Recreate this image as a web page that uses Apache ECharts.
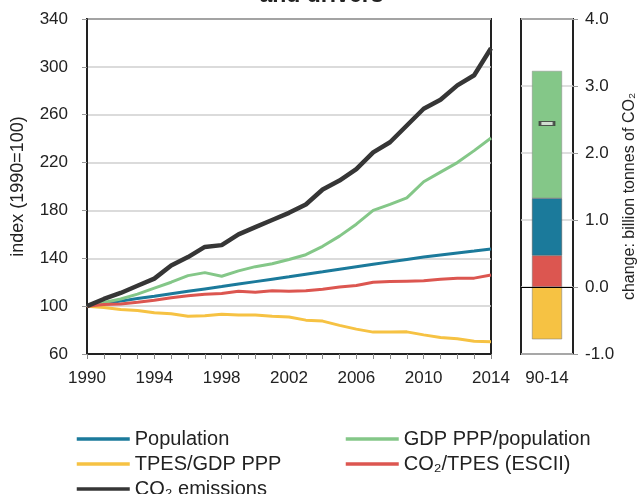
<!DOCTYPE html>
<html>
<head>
<meta charset="utf-8">
<script src="https://cdn.jsdelivr.net/npm/echarts@6/dist/echarts.min.js"></script>
<style>
  html, body { margin: 0; padding: 0; background: #fff; }
  #chart { width: 643px; height: 494px; }
</style>
</head>
<body>
<div id="chart"></div>
<script>
var years = ['1990', '1991', '1992', '1993', '1994', '1995', '1996', '1997', '1998', '1999', '2000', '2001', '2002',
             '2003', '2004', '2005', '2006', '2007', '2008', '2009', '2010', '2011', '2012', '2013', '2014'];
var population = [100, 102.1, 104.2, 106.3, 108.3, 110.4, 112.4, 114.4, 116.4, 118.5, 120.5, 122.5, 124.5,
                  126.6, 128.7, 130.9, 133, 135, 137, 139, 141, 142.7, 144.4, 146, 147.7];
var gdpPerPop = [100, 103, 106, 110, 115, 120, 125.5, 128, 125, 129.5, 133, 135.5, 139,
                 143, 150, 158.5, 168.5, 180, 185, 190.5, 204, 212, 220, 230, 240.5];
var tpesPerGdp = [100, 98.9, 97.2, 96.4, 94.4, 93.6, 91.6, 91.9, 93.3, 92.5, 92.5, 91.6, 91,
                  88.3, 87.5, 83.9, 80.8, 78.3, 78.4, 78.5, 76, 73.8, 72.7, 70.7, 70.2];
var co2PerTpes = [100, 101.4, 101.7, 103.3, 105, 107, 108.6, 110, 110.6, 112.5, 111.7, 112.8, 112.5,
                  112.9, 114.2, 116, 117.3, 120, 120.6, 120.9, 121.2, 122.5, 123.4, 123.4, 126];
var co2Emissions = [100, 106, 111, 117, 123, 134, 141, 149.5, 151, 160, 166, 172, 178,
                    185, 197.5, 205, 214.5, 228.5, 237, 251, 265, 272.5, 284.5, 293, 315.5];

// change 1990-2014, billion tonnes of CO2
var periods = ['90-14'];
var chgCo2PerTpes = [0.47];
var chgPopulation = [0.855];
var chgGdpPerPop = [1.9];
var chgTpesPerGdp = [-0.78];
var chgCo2Total = [2.44];

var colors = {
    pop: '#1b7a9b',
    gdp: '#84c788',
    tpes: '#f6c243',
    co2tpes: '#dc5650',
    co2: '#363636'
};

var chart = echarts.init(document.getElementById('chart'));
var fontFamily = '"Liberation Sans", Arial, sans-serif';

var legendBase = {
    orient: 'vertical',
    top: 429,
    height: 90,
    padding: 0,
    itemWidth: 53,
    itemHeight: 14,
    itemGap: 5,
    itemStyle: { opacity: 0 },
    lineStyle: { width: 3.5 },
    textStyle: { fontSize: 20, lineHeight: 18.5, color: '#222' }
};

var option = {
    animation: false,
    textStyle: { fontFamily: fontFamily, color: '#222' },
    title: {
        text: 'and drivers',
        left: 'center',
        top: -21,
        textStyle: { fontFamily: fontFamily, fontSize: 23, fontWeight: 'bold', color: '#222' }
    },
    legend: [
        Object.assign({}, legendBase, {
            left: 75,
            data: ['Population', 'TPES/GDP PPP', 'CO₂ emissions']
        }),
        Object.assign({}, legendBase, {
            left: 344,
            data: ['GDP PPP/population', 'CO₂/TPES (ESCII)']
        })
    ],
    grid: [
        { left: 87, top: 19, width: 404, height: 335, show: true, borderColor: '#222', borderWidth: 2 },
        { left: 521, top: 19, width: 52, height: 335, show: true, borderColor: '#222', borderWidth: 2 }
    ],
    xAxis: [
        {
            type: 'category',
            gridIndex: 0,
            data: years,
            boundaryGap: false,
            axisLine: { lineStyle: { color: '#222', width: 2 } },
            axisTick: { interval: 0, length: 5, lineStyle: { color: '#888' } },
            axisLabel: { interval: 3, fontSize: 17, color: '#222', margin: 16 },
            splitLine: { show: false }
        },
        {
            type: 'category',
            gridIndex: 1,
            data: periods,
            axisLine: { show: false, onZero: false },
            axisTick: { show: false },
            axisLabel: { fontSize: 17, color: '#222', margin: 16 }
        }
    ],
    yAxis: [
        {
            type: 'value',
            gridIndex: 0,
            min: 60,
            max: 340,
            interval: 40,
            name: 'index (1990=100)',
            nameLocation: 'middle',
            nameGap: 60,
            nameTextStyle: { fontSize: 18, color: '#222' },
            axisLine: { show: true, lineStyle: { color: '#222', width: 2 } },
            axisTick: { show: true, length: 5, lineStyle: { color: '#999' } },
            axisLabel: { fontSize: 17, color: '#222', margin: 19 },
            splitLine: { lineStyle: { color: '#cfcfcf', width: 1.5 } }
        },
        {
            type: 'value',
            gridIndex: 1,
            position: 'right',
            min: -1,
            max: 4,
            interval: 1,
            name: 'change: billion tonnes of CO₂',
            nameLocation: 'middle',
            nameRotate: 90,
            nameGap: 49,
            nameTextStyle: { fontSize: 16, color: '#222', padding: [0, 20, 0, 0] },
            axisLine: { show: false },
            axisTick: { show: true, length: 5, lineStyle: { color: '#999' } },
            axisLabel: {
                fontSize: 17, color: '#222', margin: 12,
                formatter: function (v) { return v.toFixed(1); }
            },
            splitLine: { lineStyle: { color: '#d4d4d4', width: 1.5 } }
        }
    ],
    series: [
        {
            name: 'Population', type: 'line', data: population, symbol: 'none',
            lineStyle: { color: colors.pop, width: 3 }, itemStyle: { color: colors.pop }
        },
        {
            name: 'GDP PPP/population', type: 'line', data: gdpPerPop, symbol: 'none',
            lineStyle: { color: colors.gdp, width: 3 }, itemStyle: { color: colors.gdp }
        },
        {
            name: 'TPES/GDP PPP', type: 'line', data: tpesPerGdp, symbol: 'none',
            lineStyle: { color: colors.tpes, width: 3 }, itemStyle: { color: colors.tpes }
        },
        {
            name: 'CO₂/TPES (ESCII)', type: 'line', data: co2PerTpes, symbol: 'none',
            lineStyle: { color: colors.co2tpes, width: 3 }, itemStyle: { color: colors.co2tpes }
        },
        {
            name: 'CO₂ emissions', type: 'line', data: co2Emissions, symbol: 'none',
            lineStyle: { color: colors.co2, width: 4.5 }, itemStyle: { color: colors.co2 }
        },
        // decomposition bar
        {
            type: 'bar', xAxisIndex: 1, yAxisIndex: 1, stack: 'chg', barWidth: 30,
            data: chgCo2PerTpes,
            itemStyle: { color: colors.co2tpes, borderColor: '#777', borderWidth: 0.5 }
        },
        {
            type: 'bar', xAxisIndex: 1, yAxisIndex: 1, stack: 'chg', barWidth: 30,
            data: chgPopulation,
            itemStyle: { color: colors.pop, borderColor: '#555', borderWidth: 0.5 }
        },
        {
            type: 'bar', xAxisIndex: 1, yAxisIndex: 1, stack: 'chg', barWidth: 30,
            data: chgGdpPerPop,
            itemStyle: { color: colors.gdp, borderColor: '#888', borderWidth: 0.5 }
        },
        {
            type: 'bar', xAxisIndex: 1, yAxisIndex: 1, stack: 'chg', barWidth: 30,
            data: chgTpesPerGdp,
            itemStyle: { color: colors.tpes, borderColor: '#777', borderWidth: 0.5 },
            markLine: {
                silent: true,
                symbol: 'none',
                label: { show: false },
                lineStyle: { color: '#000', width: 1, type: 'solid' },
                data: [{ yAxis: 0 }]
            }
        },
        {
            type: 'scatter', xAxisIndex: 1, yAxisIndex: 1,
            data: chgCo2Total,
            symbol: 'rect',
            symbolSize: [14, 4],
            z: 5,
            itemStyle: { color: '#e4e4e4', borderColor: '#333', borderWidth: 1.5 }
        }
    ]
};

chart.setOption(option);
window.onresize = chart.resize;
</script>
</body>
</html>
